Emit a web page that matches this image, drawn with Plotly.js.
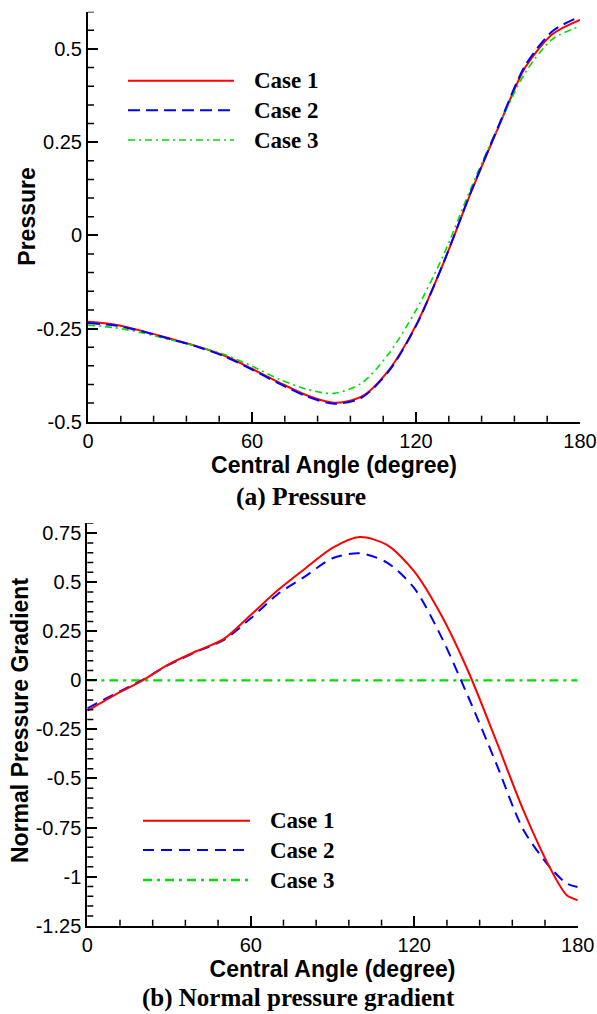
<!DOCTYPE html>
<html><head><meta charset="utf-8">
<script src="https://cdn.plot.ly/plotly-3.0.1.min.js"></script>
<style>html,body{margin:0;padding:0;background:#fff}</style>
</head><body><div id="chart" style="width:597px;height:1014px"></div>
<script>
// ---- data (a) Pressure ----
const angle = [0,10,20,30,40,50,60,70,80,90,100,110,120,130,140,150,160,170,180];
const pressureCase1 = [-0.232,-0.240,-0.257,-0.277,-0.298,-0.323,-0.358,-0.395,-0.429,-0.449,-0.433,-0.362,-0.241,-0.075,0.113,0.287,0.451,0.540,0.578];
const pressureCase2 = [-0.235,-0.242,-0.258,-0.278,-0.299,-0.325,-0.360,-0.398,-0.432,-0.452,-0.436,-0.365,-0.243,-0.075,0.115,0.290,0.456,0.548,0.587];
const pressureCase3 = [-0.241,-0.248,-0.262,-0.280,-0.298,-0.320,-0.351,-0.386,-0.413,-0.424,-0.397,-0.318,-0.201,-0.054,0.125,0.290,0.437,0.527,0.561];
// ---- data (b) Normal pressure gradient ----
const gradAngle = [0,10,20,30,40,50,60,70,80,90,100,110,120,130,140,150,160,170,176,180];
const gradCase1 = [-0.155,-0.075,-0.003,0.082,0.148,0.210,0.333,0.460,0.570,0.675,0.730,0.690,0.555,0.330,0.040,-0.305,-0.660,-0.960,-1.095,-1.120];
const gradCase2 = [-0.143,-0.070,0.000,0.080,0.145,0.205,0.316,0.440,0.530,0.622,0.647,0.600,0.470,0.220,-0.090,-0.420,-0.760,-0.955,-1.035,-1.053];
const gradCase3 = [0,0,0,0,0,0,0,0,0,0,0,0,0,0,0,0,0,0,0,0];

const seriesNames = ['Case 1','Case 2','Case 3'];
const xTickVals = [0,60,120,180];
const xTickText = ['0','60','120','180'];
const pTickVals = [-0.5,-0.25,0,0.25,0.5];
const pTickText = ['-0.5','-0.25','0','0.25','0.5'];
const gTickVals = [-1.25,-1,-0.75,-0.5,-0.25,0,0.25,0.5,0.75];
const gTickText = ['-1.25','-1','-0.75','-0.5','-0.25','0','0.25','0.5','0.75'];

const sans = 'Liberation Sans, Arial, sans-serif';
const serif = 'Liberation Serif, Times New Roman, serif';
const colors = ['#ff0000','#0000ff','#00dd00'];
const dashTop = ['solid','12px,6px','7px,4px,2px,4px'];
const dashBot = ['solid','11px,7px','9px,5px,3px,5px'];
const widthTop = [2,2,1.6];
const widthBot = [2,2,2.4];

function steps(lo,hi,step){ const out=[]; const n=Math.round((hi-lo)/step); for(let k=0;k<=n;k++) out.push(+(lo+k*step).toFixed(4)); return out; }

function tr(x,y,i,xa,ya,dash,w){
  return {x:x,y:y,xaxis:xa,yaxis:ya,type:'scatter',mode:'lines',name:seriesNames[i],showlegend:false,
    line:{color:colors[i],width:w[i],dash:dash[i],shape:'spline',smoothing:0.8}};
}
const data = [
  tr(angle,pressureCase1,0,'x','y',dashTop,widthTop),
  tr(angle,pressureCase3,2,'x','y',dashTop,widthTop),
  tr(angle,pressureCase2,1,'x','y',dashTop,widthTop),
  tr(gradAngle,gradCase3,2,'x2','y2',dashBot,widthBot),
  tr(gradAngle,gradCase2,1,'x2','y2',dashBot,widthBot),
  tr(gradAngle,gradCase1,0,'x2','y2',dashBot,widthBot)
];

function xax(domain,anchor){
  return {domain:domain,anchor:anchor,range:[0,180],showline:true,linewidth:2,linecolor:'black',mirror:false,
    showgrid:false,zeroline:false,ticks:'inside',ticklen:10,tickwidth:2,tickcolor:'black',
    tickmode:'array',tickvals:xTickVals,ticktext:xTickText,
    tickfont:{family:sans,size:20,color:'black'},
    title:{text:'Central Angle (degree)',font:{family:sans,size:23,color:'black',weight:'bold'},standoff:3}};
}
function yax(domain,anchor,range,tv,tt){
  return {domain:domain,anchor:anchor,range:range,showline:true,linewidth:2,linecolor:'black',mirror:false,
    showgrid:false,zeroline:false,ticks:'inside',ticklen:10,tickwidth:2,tickcolor:'black',
    tickmode:'array',tickvals:tv,ticktext:tt,
    tickfont:{family:sans,size:20,color:'black'}};
}

const W=597,H=1014;
function px(x){return x/W;} function py(y){return 1-y/H;}
const shapes=[], annotations=[];

// minor ticks (inside), placed through the axes' own scales
const MINOR_LEN = 6;
function minorTicks(xr,yr,xStep,yRange,yStep,xLenPx,yLenPx){
  steps(0,180,xStep).forEach(v=>{
    if(v%60===0) return;
    shapes.push({type:'line',layer:'above',xref:xr,yref:yr+' domain',x0:v,x1:v,y0:0,y1:MINOR_LEN/yLenPx,line:{color:'black',width:1.5}});
  });
  steps(yRange[0],yRange[1],yStep).forEach(v=>{
    if(Math.abs(v/0.25-Math.round(v/0.25))<1e-6) return;
    shapes.push({type:'line',layer:'above',xref:xr+' domain',yref:yr,x0:0,x1:MINOR_LEN/xLenPx,y0:v,y1:v,line:{color:'black',width:1.5}});
  });
}
minorTicks('x','y',12,[-0.5,0.6],0.05,492,410);
minorTicks('x2','y2',12,[-1.25,0.8],0.05,490.4,402.4);

// legends
const legTop = {x0:128,x1:234,tx:252,ys:[80.7,110.3,140]};
const legBot = {x0:143,x1:250,tx:268,ys:[820.7,850,880]};
[[legTop,dashTop,widthTop],[legBot,dashBot,widthBot]].forEach(([L,d,w])=>{
  seriesNames.forEach((n,i)=>{
    shapes.push({type:'line',xref:'paper',yref:'paper',x0:px(L.x0),x1:px(L.x1),y0:py(L.ys[i]),y1:py(L.ys[i]),
      line:{color:colors[i],width:w[i],dash:d[i]}});
    annotations.push({xref:'paper',yref:'paper',x:px(L.tx),y:py(L.ys[i]),xanchor:'left',yanchor:'middle',showarrow:false,
      text:n,font:{family:serif,size:23,color:'black',weight:'bold'}});
  });
});
// y-axis titles
annotations.push({xref:'paper',yref:'paper',x:px(27),y:py(216.7),xanchor:'center',yanchor:'middle',showarrow:false,textangle:-90,
  text:'Pressure',font:{family:sans,size:23,color:'black',weight:'bold'}});
annotations.push({xref:'paper',yref:'paper',x:px(20),y:py(721),xanchor:'center',yanchor:'middle',showarrow:false,textangle:-90,
  text:'Normal Pressure Gradient',font:{family:sans,size:23,color:'black',weight:'bold'}});
// captions
annotations.push({xref:'paper',yref:'paper',x:px(301),y:py(496),xanchor:'center',yanchor:'middle',showarrow:false,
  text:'(a) Pressure',font:{family:serif,size:25.5,color:'black',weight:'bold'}});
annotations.push({xref:'paper',yref:'paper',x:px(298),y:py(998),xanchor:'center',yanchor:'middle',showarrow:false,
  text:'(b) Normal pressure gradient',font:{family:serif,size:25,color:'black',weight:'bold'}});

const layout = {
  width:W,height:H,margin:{l:0,r:0,t:0,b:0},paper_bgcolor:'white',plot_bgcolor:'white',showlegend:false,
  xaxis:xax([88/W,580/W],'y'),
  yaxis:yax([1-421.7/H,1-11.7/H],'x',[-0.5,0.6],pTickVals,pTickText),
  xaxis2:xax([87.3/W,577.7/W],'y2'),
  yaxis2:yax([1-925.7/H,1-523.3/H],'x2',[-1.25,0.8],gTickVals,gTickText),
  shapes:shapes,annotations:annotations
};
Plotly.newPlot('chart',data,layout,{staticPlot:true,displayModeBar:false});
</script></body></html>
